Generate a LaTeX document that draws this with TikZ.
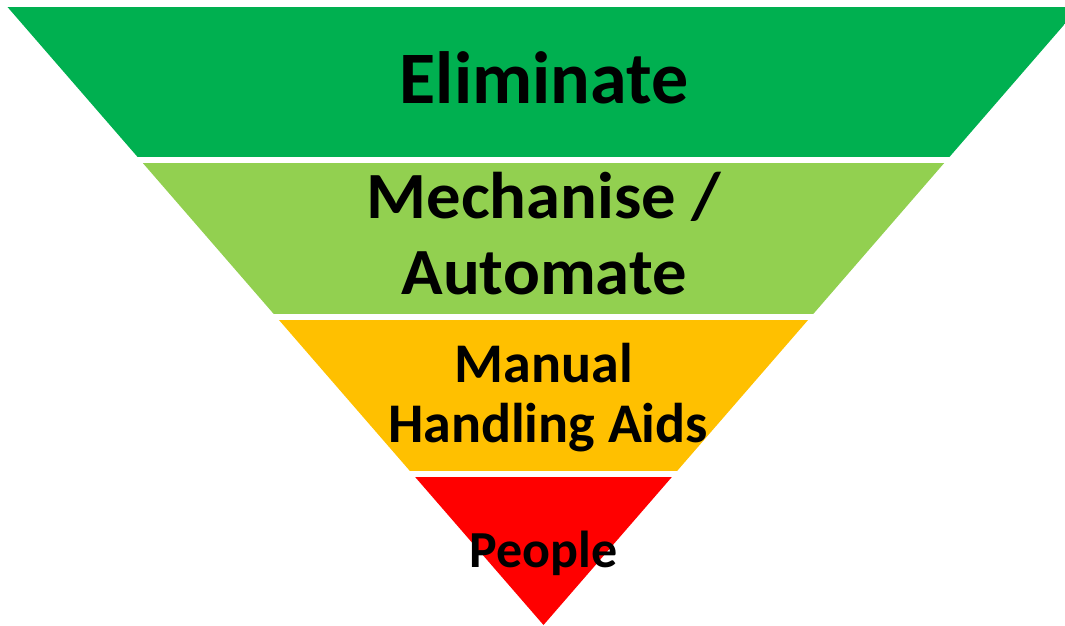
\documentclass[tikz,border=0pt]{standalone}
\usepackage{fontspec}
\setmainfont{Carlito}
\definecolor{elim}{HTML}{00B050}
\definecolor{mech}{HTML}{92D050}
\definecolor{aids}{HTML}{FFC000}
\definecolor{ppl}{HTML}{FF0000}
\begin{document}
\begin{tikzpicture}[x=1pt,y=-1pt,
  lbl/.style={anchor=base,align=center,inner sep=0pt,text=black,font=\bfseries}]
\useasboundingbox (0,0) rectangle (1065,625);
\clip (0,0) rectangle (1065,625);
\coordinate (apex) at (543.5,625);
\coordinate (tl) at (7.5,7);
\coordinate (tr) at (1079.5,7);
\begin{scope}
  \clip (tl) -- (tr) -- (apex) -- cycle;
  \fill[elim] (0,7) rectangle (1100,157);
  \fill[mech] (0,163) rectangle (1100,314);
  \fill[aids] (0,320) rectangle (1100,471);
  \fill[ppl]  (0,477) rectangle (1100,630);
\end{scope}
\node[lbl,font=\bfseries\fontsize{74}{88}\selectfont] (t1) at (544,103) {Eliminate};
\node[lbl,font=\bfseries\fontsize{66}{75}\selectfont,xscale=1.04] (t2a) at (544,218) {Mechanise /};
\node[lbl,font=\bfseries\fontsize{66}{75}\selectfont,xscale=1.04] (t2b) at (544,294) {Automate};
\node[lbl,font=\bfseries\fontsize{56}{60}\selectfont] (t3a) at (544,382) {Manual};
\node[lbl,font=\bfseries\fontsize{56}{60}\selectfont] (t3b) at (548,442) {Handling Aids};
\node[lbl,font=\bfseries\fontsize{52}{60}\selectfont] (t4) at (543.5,567) {People};
\end{tikzpicture}
\end{document}
